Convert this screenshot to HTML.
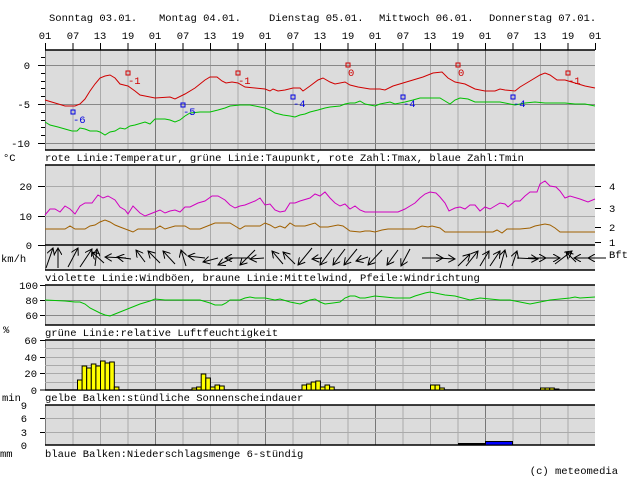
<!DOCTYPE html><html><head><meta charset="utf-8"><style>
body{margin:0;background:#fff}svg{display:block}
text{font-family:"Liberation Mono","DejaVu Sans Mono",monospace;font-size:10.5px;fill:#000}
</style></head><body>
<svg width="631" height="480" viewBox="0 0 631 480" xmlns="http://www.w3.org/2000/svg">
<defs>
<marker id="ah" markerWidth="8" markerHeight="8" refX="7" refY="4" orient="auto" markerUnits="userSpaceOnUse"><path d="M0,0 L7,4 L0,8" fill="none" stroke="#000" stroke-width="1"/></marker>
<pattern id="vg" width="110" height="480" patternUnits="userSpaceOnUse" x="45" y="0">
<line x1="0.5" y1="0" x2="0.5" y2="480" stroke="#777"/>
<line x1="28" y1="0" x2="28" y2="480" stroke="#aaa"/>
<line x1="55.5" y1="0" x2="55.5" y2="480" stroke="#aaa"/>
<line x1="83" y1="0" x2="83" y2="480" stroke="#aaa"/>
</pattern>
</defs>
<!-- panel backgrounds -->
<g fill="#dcdcdc">
<rect x="45" y="50" width="550" height="100"/>
<rect x="45" y="165" width="550" height="105"/>
<rect x="45" y="285" width="550" height="40"/>
<rect x="45" y="340" width="550" height="50"/>
<rect x="45" y="405" width="550" height="40"/>
</g>
<g fill="url(#vg)">
<rect x="45" y="50" width="550" height="100"/>
<rect x="45" y="165" width="550" height="105"/>
<rect x="45" y="285" width="550" height="40"/>
<rect x="45" y="340" width="550" height="50"/>
<rect x="45" y="405" width="550" height="40"/>
</g>
<!-- horizontal grids -->
<g stroke="#888" stroke-width="1">
<line x1="45" y1="65.5" x2="595" y2="65.5"/><line x1="45" y1="104.5" x2="595" y2="104.5"/><line x1="45" y1="143.5" x2="595" y2="143.5"/>
<line x1="45" y1="186.5" x2="595" y2="186.5" stroke="#aaa"/><line x1="45" y1="216.5" x2="595" y2="216.5" stroke="#aaa"/>
<line x1="45" y1="300.5" x2="595" y2="300.5"/><line x1="45" y1="315.5" x2="595" y2="315.5"/>
</g>
<g stroke="#aaa"><line x1="45" y1="348.5" x2="595" y2="348.5"/><line x1="45" y1="357.5" x2="595" y2="357.5"/><line x1="45" y1="365.5" x2="595" y2="365.5"/><line x1="45" y1="373.5" x2="595" y2="373.5"/><line x1="45" y1="382.5" x2="595" y2="382.5"/>
<line x1="45" y1="418.5" x2="595" y2="418.5"/><line x1="45" y1="432.5" x2="595" y2="432.5"/></g>
<!-- borders -->
<g stroke="#000" stroke-width="1.5">
<line x1="45" y1="50" x2="595" y2="50"/><line x1="45" y1="150" x2="595" y2="150"/>
<line x1="45" y1="165" x2="595" y2="165"/><line x1="45" y1="245" x2="595" y2="245"/><line x1="45" y1="270" x2="595" y2="270"/>
<line x1="45" y1="285" x2="595" y2="285"/><line x1="45" y1="325" x2="595" y2="325"/>
<line x1="45" y1="340" x2="595" y2="340"/><line x1="45" y1="390" x2="595" y2="390"/>
<line x1="45" y1="405" x2="595" y2="405"/><line x1="45" y1="445" x2="595" y2="445"/>
</g>
<!-- hour ticks top -->
<g stroke="#000"><line x1="45.5" y1="43" x2="45.5" y2="50"/><line x1="73" y1="43" x2="73" y2="50"/><line x1="100.5" y1="43" x2="100.5" y2="50"/><line x1="128" y1="43" x2="128" y2="50"/><line x1="155.5" y1="43" x2="155.5" y2="50"/><line x1="183" y1="43" x2="183" y2="50"/><line x1="210.5" y1="43" x2="210.5" y2="50"/><line x1="238" y1="43" x2="238" y2="50"/><line x1="265.5" y1="43" x2="265.5" y2="50"/><line x1="293" y1="43" x2="293" y2="50"/><line x1="320.5" y1="43" x2="320.5" y2="50"/><line x1="348" y1="43" x2="348" y2="50"/><line x1="375.5" y1="43" x2="375.5" y2="50"/><line x1="403" y1="43" x2="403" y2="50"/><line x1="430.5" y1="43" x2="430.5" y2="50"/><line x1="458" y1="43" x2="458" y2="50"/><line x1="485.5" y1="43" x2="485.5" y2="50"/><line x1="513" y1="43" x2="513" y2="50"/><line x1="540.5" y1="43" x2="540.5" y2="50"/><line x1="568" y1="43" x2="568" y2="50"/><line x1="595.5" y1="43" x2="595.5" y2="50"/></g>
<!-- left ticks -->
<g stroke="#000"><line x1="38" y1="65.5" x2="45" y2="65.5"/><line x1="38" y1="104.5" x2="45" y2="104.5"/><line x1="38" y1="143.5" x2="45" y2="143.5"/>
<line x1="41" y1="57.5" x2="45" y2="57.5"/><line x1="41" y1="73.5" x2="45" y2="73.5"/><line x1="41" y1="81.5" x2="45" y2="81.5"/><line x1="41" y1="88.5" x2="45" y2="88.5"/><line x1="41" y1="96.5" x2="45" y2="96.5"/><line x1="41" y1="112.5" x2="45" y2="112.5"/><line x1="41" y1="120.5" x2="45" y2="120.5"/><line x1="41" y1="127.5" x2="45" y2="127.5"/><line x1="41" y1="135.5" x2="45" y2="135.5"/>
<line x1="38" y1="186.5" x2="45" y2="186.5"/><line x1="38" y1="216.5" x2="45" y2="216.5"/><line x1="38" y1="245.5" x2="45" y2="245.5"/>
<line x1="595" y1="186.5" x2="601" y2="186.5"/><line x1="595" y1="208.5" x2="601" y2="208.5"/><line x1="595" y1="227.5" x2="601" y2="227.5"/><line x1="595" y1="242.5" x2="601" y2="242.5"/><line x1="595" y1="258" x2="606" y2="258"/>
<line x1="40" y1="300.5" x2="45" y2="300.5"/><line x1="40" y1="315.5" x2="45" y2="315.5"/><line x1="40" y1="285.5" x2="45" y2="285.5"/>
<line x1="40" y1="357.5" x2="45" y2="357.5"/><line x1="40" y1="373.5" x2="45" y2="373.5"/><line x1="40" y1="340.5" x2="45" y2="340.5"/><line x1="40" y1="390" x2="45" y2="390"/>
<line x1="40" y1="418.5" x2="45" y2="418.5"/><line x1="40" y1="432.5" x2="45" y2="432.5"/>
</g>
<!-- header text -->
<text x="49" y="21">Sonntag 03.01.</text><text x="159" y="21">Montag 04.01.</text><text x="269" y="21">Dienstag 05.01.</text><text x="379" y="21">Mittwoch 06.01.</text><text x="489" y="21">Donnerstag 07.01.</text>
<g text-anchor="middle"><text x="45" y="39">01</text><text x="73" y="39">07</text><text x="100" y="39">13</text><text x="128" y="39">19</text><text x="155" y="39">01</text><text x="183" y="39">07</text><text x="210" y="39">13</text><text x="238" y="39">19</text><text x="265" y="39">01</text><text x="293" y="39">07</text><text x="320" y="39">13</text><text x="348" y="39">19</text><text x="375" y="39">01</text><text x="403" y="39">07</text><text x="430" y="39">13</text><text x="458" y="39">19</text><text x="485" y="39">01</text><text x="513" y="39">07</text><text x="540" y="39">13</text><text x="568" y="39">19</text><text x="595" y="39">01</text></g>
<g text-anchor="end"><text x="30" y="69">0</text><text x="30" y="108">-5</text><text x="30" y="147">-10</text>
<text x="32" y="190">20</text><text x="32" y="220">10</text><text x="32" y="249">0</text>
<text x="38" y="289">100</text><text x="38" y="304">80</text><text x="38" y="319">60</text>
<text x="37" y="344">60</text><text x="37" y="361">40</text><text x="37" y="377">20</text><text x="37" y="394">0</text>
<text x="27" y="409">9</text><text x="27" y="422">6</text><text x="27" y="436">3</text><text x="27" y="449">0</text></g>
<text x="609" y="190">4</text><text x="609" y="212">3</text><text x="609" y="231">2</text><text x="609" y="246">1</text><text x="609" y="258">Bft</text>
<text x="3" y="161">°C</text><text x="45" y="161">rote Linie:Temperatur, grüne Linie:Taupunkt, rote Zahl:Tmax, blaue Zahl:Tmin</text>
<text x="1" y="262">km/h</text><text x="45" y="281">violette Linie:Windböen, braune Linie:Mittelwind, Pfeile:Windrichtung</text>
<text x="3" y="333">%</text><text x="45" y="336">grüne Linie:relative Luftfeuchtigkeit</text>
<text x="2" y="401">min</text><text x="45" y="401">gelbe Balken:stündliche Sonnenscheindauer</text>
<text x="0" y="457">mm</text><text x="45" y="457">blaue Balken:Niederschlagsmenge 6-stündig</text>
<text x="618" y="474" text-anchor="end">(c) meteomedia</text>
<!-- temperature -->
<polyline fill="none" stroke="#d00000" stroke-width="1" points="45,100 55,103 65,106 75,106 80,104 85,99 90,91 95,84 100,78 105,76 110,75 115,78 120,84 128,86 135,91 140,95 145,96 155,98 170,97 175,99 185,94 195,88 205,80 210,77 217,77 222,81 226,83 232,82 238,83 245,87 255,88 265,89 270,91 273,89 278,91 285,90 293,88 300,88 303,91 310,86 318,80 323,78 330,82 335,84 345,82 350,85 358,87 370,89 380,89 385,90 393,86 403,83 413,80 423,77 433,73 442,72 448,78 455,82 465,84 475,89 485,91 495,91 500,89 505,90 515,91 520,87 530,81 540,75 545,73 550,75 557,80 565,80 575,83 585,86 595,88"/>
<polyline fill="none" stroke="#00c000" stroke-width="1" points="45,122 50,125 58,127 65,129 72,131 77,131 80,128 85,129 90,131 97,131 100,132 105,135 110,132 115,131 120,128 125,129 130,126 135,125 145,122 150,124 155,119 165,119 170,120 175,122 180,120 185,116 190,113 200,112 210,112 218,110 225,108 230,106 240,105 250,105 260,107 265,108 270,110 275,113 283,115 290,116 295,117 300,115 305,114 310,112 318,110 325,108 330,107 340,106 345,104 350,103 355,103 360,101 365,104 370,105 375,106 380,104 385,103 390,102 395,104 405,102 413,100 420,98 435,98 440,98 445,101 450,104 455,100 460,98 468,99 475,102 485,102 500,102 510,104 515,105 520,104 525,103 535,102 545,103 555,103 565,103 575,104 585,104 595,106"/>
<g fill="none" stroke-width="1"><rect x="126" y="71" width="4" height="4" stroke="#d00000"/><rect x="236" y="71" width="4" height="4" stroke="#d00000"/><rect x="346" y="63" width="4" height="4" stroke="#d00000"/><rect x="456" y="63" width="4" height="4" stroke="#d00000"/><rect x="566" y="71" width="4" height="4" stroke="#d00000"/>
<rect x="71" y="110" width="4" height="4" stroke="#0000e0"/><rect x="181" y="103" width="4" height="4" stroke="#0000e0"/><rect x="291" y="95" width="4" height="4" stroke="#0000e0"/><rect x="401" y="95" width="4" height="4" stroke="#0000e0"/><rect x="511" y="95" width="4" height="4" stroke="#0000e0"/></g>
<g style="font-size:12px"><text x="128" y="84" fill="#d00000" style="fill:#d00000">-1</text><text x="238" y="84" style="fill:#d00000">-1</text><text x="348" y="76" style="fill:#d00000">0</text><text x="458" y="76" style="fill:#d00000">0</text><text x="568" y="84" style="fill:#d00000">-1</text>
<text x="73" y="123" style="fill:#0000e0">-6</text><text x="183" y="115" style="fill:#0000e0">-5</text><text x="293" y="107" style="fill:#0000e0">-4</text><text x="403" y="107" style="fill:#0000e0">-4</text><text x="513" y="107" style="fill:#0000e0">-4</text></g>
<!-- wind -->
<polyline fill="none" stroke="#d000c0" points="45,215 50,209 55,209 60,212 65,206 70,209 75,214 80,206 85,203 92,203 95,199 98,195 103,198 108,196 115,200 120,207 125,210 128,214 133,206 140,213 145,216 150,214 155,212 160,210 165,213 170,211 175,210 180,212 185,207 190,207 198,203 205,201 212,196 218,196 225,200 230,205 235,208 240,206 245,205 255,201 260,198 265,205 270,204 275,210 280,212 285,211 290,203 295,203 300,201 310,198 315,194 320,196 325,192 330,198 335,203 340,206 345,204 350,209 355,206 360,210 365,212 380,212 398,212 405,209 410,206 415,203 420,198 425,194 430,192 436,193 440,197 445,203 449,211 455,208 460,207 465,209 470,205 475,205 480,211 485,207 490,209 495,206 500,203 505,204 508,207 515,201 520,201 525,196 530,192 537,192 540,184 545,181 550,186 556,187 560,191 565,198 570,196 580,199 588,202 595,199"/>
<polyline fill="none" stroke="#a06000" points="45,229 65,229 70,226 75,229 85,229 90,226 95,225 100,222 105,220 110,222 115,225 120,227 128,230 133,232 138,229 155,229 160,226 165,229 175,226 185,226 190,229 200,229 210,225 215,223 230,223 235,226 240,229 245,226 260,226 265,223 270,225 275,228 280,226 285,228 290,223 295,226 305,226 315,223 320,227 328,227 338,225 343,226 350,231 360,232 365,231 370,231 375,232 382,230 388,229 392,229 400,229 415,229 422,226 428,227 432,226 440,228 445,232 460,232 475,232 493,232 497,230 502,233 507,229 520,229 530,228 535,226 540,225 545,224 550,225 555,228 560,232 595,232"/>
<!-- arrows -->
<g stroke="#000" stroke-width="1" marker-end="url(#ah)">
<line x1="46" y1="268" x2="53" y2="248"/><line x1="58" y1="268" x2="58" y2="248"/><line x1="68" y1="267" x2="78" y2="248"/><line x1="80" y1="267" x2="92" y2="249"/><line x1="95" y1="266" x2="97" y2="249"/>
<line x1="104" y1="263" x2="92" y2="252" /><line x1="126" y1="258" x2="105" y2="257"/><line x1="131" y1="259" x2="117" y2="257"/><line x1="145" y1="262" x2="136" y2="250"/><line x1="160" y1="263" x2="148" y2="251"/><line x1="175" y1="264" x2="163" y2="251"/><line x1="186" y1="266" x2="181" y2="250"/>
<line x1="205" y1="258" x2="188" y2="256"/><line x1="218" y1="258" x2="203" y2="262"/><line x1="233" y1="258" x2="218" y2="265"/><line x1="250" y1="258" x2="225" y2="258"/><line x1="255" y1="250" x2="240" y2="265"/><line x1="264" y1="258" x2="250" y2="259"/>
<line x1="283" y1="264" x2="272" y2="251"/><line x1="295" y1="264" x2="283" y2="252"/><line x1="312" y1="248" x2="298" y2="265"/><line x1="322" y1="258" x2="312" y2="259"/><line x1="332" y1="249" x2="320" y2="265"/><line x1="345" y1="249" x2="333" y2="265"/><line x1="357" y1="249" x2="344" y2="265"/><line x1="368" y1="257" x2="356" y2="261"/><line x1="382" y1="250" x2="368" y2="265"/><line x1="398" y1="250" x2="387" y2="265"/><line x1="410" y1="249" x2="401" y2="266"/>
<line x1="422" y1="258" x2="443" y2="258"/><line x1="436" y1="258" x2="455" y2="259"/><line x1="458" y1="266" x2="470" y2="254"/><line x1="466" y1="266" x2="478" y2="251"/><line x1="480" y1="266" x2="489" y2="251"/><line x1="490" y1="266" x2="500" y2="251"/><line x1="500" y1="268" x2="505" y2="250"/><line x1="512" y1="266" x2="517" y2="251"/><line x1="517" y1="258" x2="538" y2="259"/><line x1="528" y1="258" x2="546" y2="258"/><line x1="545" y1="258" x2="560" y2="258"/><line x1="555" y1="264" x2="572" y2="251"/><line x1="576" y1="262" x2="566" y2="252"/><line x1="600" y1="258" x2="574" y2="258"/><line x1="593" y1="258" x2="588" y2="258"/>
</g>
<!-- humidity -->
<polyline fill="none" stroke="#00c000" points="45,300 65,301 75,302 80,302 85,304 90,308 100,313 105,315 110,316 115,314 120,312 130,308 140,304 150,301 155,299 165,300 200,300 210,303 215,305 222,305 226,303 230,300 240,300 245,298 250,297 255,298 265,298 275,300 280,299 290,302 300,304 305,302 310,300 315,299 320,302 325,304 333,303 340,302 345,298 350,296 355,296 360,298 365,298 375,296 385,297 395,298 410,298 415,296 425,293 430,292 445,295 455,296 470,300 480,298 490,299 500,300 510,300 520,302 530,304 540,302 550,300 560,299 570,298 575,297 580,298 595,297"/>
<!-- sunshine bars -->
<g fill="#ffff00" stroke="#000" stroke-width="1">
<rect x="77.5" y="380" width="4.6" height="10"/><rect x="82.1" y="366" width="4.6" height="24"/><rect x="86.7" y="368" width="4.6" height="22"/><rect x="91.3" y="364" width="4.6" height="26"/><rect x="95.9" y="366" width="4.6" height="24"/><rect x="100.5" y="361" width="4.6" height="29"/><rect x="105.1" y="363" width="4.6" height="27"/><rect x="109.7" y="362" width="4.6" height="28"/><rect x="114.3" y="387" width="4.6" height="3"/>
<rect x="192" y="388" width="4.6" height="2"/><rect x="196.6" y="387" width="4.6" height="3"/><rect x="201.2" y="374" width="4.6" height="16"/><rect x="205.8" y="378" width="4.6" height="12"/><rect x="210.4" y="387" width="4.6" height="3"/><rect x="215" y="385" width="4.6" height="5"/><rect x="219.6" y="386" width="4.6" height="4"/>
<rect x="302" y="385" width="4.6" height="5"/><rect x="306.6" y="384" width="4.6" height="6"/><rect x="311.2" y="382" width="4.6" height="8"/><rect x="315.8" y="381" width="4.6" height="9"/><rect x="320.4" y="387" width="4.6" height="3"/><rect x="325" y="385" width="4.6" height="5"/><rect x="329.6" y="387" width="4.6" height="3"/>
<rect x="430.5" y="385" width="4.6" height="5"/><rect x="435.1" y="385" width="4.6" height="5"/><rect x="439.7" y="388" width="4.6" height="2"/>
<rect x="540.5" y="388" width="4.6" height="2"/><rect x="545.1" y="388" width="4.6" height="2"/><rect x="549.7" y="388" width="4.6" height="2"/><rect x="554.3" y="389" width="4.6" height="1"/>
</g>
<!-- precip -->
<line x1="458" y1="444" x2="485" y2="444" stroke="#000" stroke-width="2"/>
<rect x="485.5" y="441.5" width="27" height="3.5" fill="#0000ff" stroke="#000" stroke-width="1"/>
</svg>
</body></html>
